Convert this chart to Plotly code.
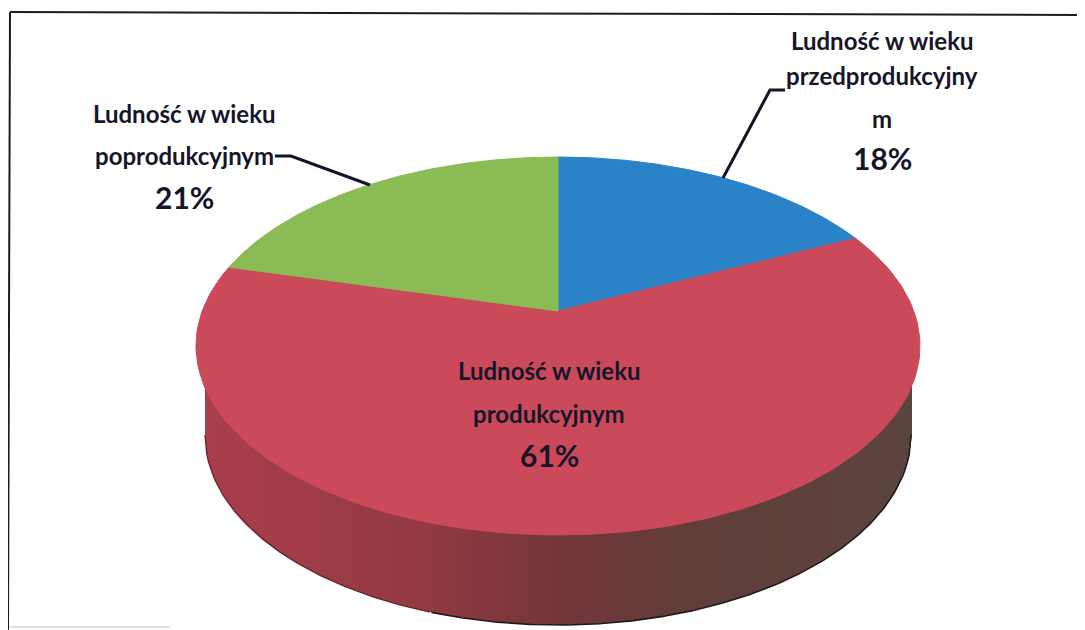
import numpy as np
import plotly.graph_objects as go

# ---- data
categories = ["Ludność w wieku przedprodukcyjnym", "Ludność w wieku produkcyjnym", "Ludność w wieku poprodukcyjnym"]
values = [18, 61, 21]
label_lines = [
    ["Ludność w wieku", "przedprodukcyjny", "m"],
    ["Ludność w wieku", "produkcyjnym"],
    ["Ludność w wieku", "poprodukcyjnym"],
]
colors = ["#2a83c6", "#cb4a5a", "#8bbb55"]

# ---- drawing geometry (pixel-space axes; the page body has an 8px margin)
W, H = 1085, 630
PAGE_MARGIN = 8
APEX = (558.0, 311.0)
TOP = dict(cx=558.0, cy=346.0, rx=362.0, ry=189.0)
LOW = dict(cx=558.0, cy=435.0, rx=353.0, ry=190.0)
DIR_RY = 188.0


def rim_point(theta):
    dx, dy = TOP["rx"] * np.sin(theta), -DIR_RY * np.cos(theta)
    ax, ay = (APEX[0] - TOP["cx"]) / TOP["rx"], (APEX[1] - TOP["cy"]) / TOP["ry"]
    bx, by = dx / TOP["rx"], dy / TOP["ry"]
    a = bx * bx + by * by
    b = 2 * (ax * bx + ay * by)
    c = ax * ax + ay * ay - 1
    t = (-b + np.sqrt(b * b - 4 * a * c)) / (2 * a)
    return APEX[0] + t * dx, APEX[1] + t * dy


def wall_color(x):
    stops_x = [196, 300, 420, 558, 700, 920]
    r = np.interp(x, stops_x, [170, 160, 146, 116, 96, 92])
    g = np.interp(x, stops_x, [62, 60, 58, 54, 62, 68])
    b = np.interp(x, stops_x, [76, 72, 66, 58, 58, 62])
    return f"rgb({r:.0f},{g:.0f},{b:.0f})"


fig = go.Figure()

# side wall, as narrow vertical strips so that the shading can vary along it
edges = np.arange(LOW["cx"] - LOW["rx"], LOW["cx"] + LOW["rx"] + 6, 6.0)
edges[-1] = LOW["cx"] + LOW["rx"]


def low_y(x):
    u = np.clip((x - LOW["cx"]) / LOW["rx"], -1, 1)
    return LOW["cy"] + LOW["ry"] * np.sqrt(1 - u * u)


for x0, x1 in zip(edges[:-1], edges[1:]):
    xs = np.linspace(x0, x1 + 1.0, 4)
    fig.add_trace(go.Scatter(
        x=list(xs) + [xs[-1], xs[0], xs[0]],
        y=list(low_y(xs)) + [340, 340, low_y(xs[0])],
        mode="lines", line=dict(width=0), fill="toself",
        fillcolor=wall_color((x0 + x1) / 2), hoverinfo="skip", showlegend=False))

# dark lower edge of the wall
xs = np.linspace(edges[0], edges[-1], 400)
left = xs <= 430
right = xs >= 430
fig.add_trace(go.Scatter(x=xs[left], y=low_y(xs[left]), mode="lines",
                         line=dict(color="#6a2630", width=1.4),
                         hoverinfo="skip", showlegend=False))
fig.add_trace(go.Scatter(x=xs[right], y=low_y(xs[right]), mode="lines",
                         line=dict(color="#221a1c", width=1.6),
                         hoverinfo="skip", showlegend=False))

# top-face slices, clockwise from 12 o'clock
cum = 0.0
for name, v, col in zip(categories, values, colors):
    th = np.radians(np.linspace(cum, cum + v, 160) * 3.6)
    pts = [rim_point(t) for t in th]
    px = [APEX[0]] + [p[0] for p in pts] + [APEX[0]]
    py = [APEX[1]] + [p[1] for p in pts] + [APEX[1]]
    fig.add_trace(go.Scatter(x=px, y=py, mode="lines", fill="toself", fillcolor=col,
                             line=dict(color=col, width=1), name=name,
                             hoverinfo="name", showlegend=False))
    cum += v

# leader lines
leader = dict(color="#15152a", width=3)
fig.add_shape(type="path", path="M 275 156 L 291 156 L 370 185", line=leader)
fig.add_shape(type="path", path="M 723 178 L 770 90 L 785 90", line=leader)

# frame: the scan only keeps its top and left sides, and a faint trace at the bottom
frame = dict(color="#1c1c22", width=2)
fig.add_shape(type="line", x0=10, y0=12, x1=1085, y1=15, line=frame)
fig.add_shape(type="line", x0=10, y0=12, x1=8, y1=630, line=frame)
fig.add_shape(type="line", x0=9, y0=627, x1=170, y1=627,
              line=dict(color="#d8d8d8", width=1.5))

# labels
FONT = "Lato, 'Open Sans', sans-serif"
TXT = "#16162a"
placements = [
    (882, [40, 75, 118], 158),
    (549, [370, 413], 455),
    (184, [113, 155], 197),
]
for v, lines, (cx, ys, py) in zip(values, label_lines, placements):
    for line, y in zip(lines, ys):
        fig.add_annotation(x=cx, y=y, text=f"<b>{line}</b>", showarrow=False,
                           font=dict(family=FONT, size=24, color=TXT))
    fig.add_annotation(x=cx, y=py, text=f"<b>{v}%</b>", showarrow=False,
                       font=dict(family=FONT, size=30, color=TXT))

fig.update_layout(
    width=W - PAGE_MARGIN, height=H - PAGE_MARGIN, autosize=False,
    margin=dict(l=0, r=0, t=0, b=0),
    paper_bgcolor="white", plot_bgcolor="white", showlegend=False,
    xaxis=dict(range=[PAGE_MARGIN, W], visible=False, fixedrange=True),
    yaxis=dict(range=[H, PAGE_MARGIN], visible=False, fixedrange=True),
)
fig.write_html("out.html", config={"displayModeBar": False})
